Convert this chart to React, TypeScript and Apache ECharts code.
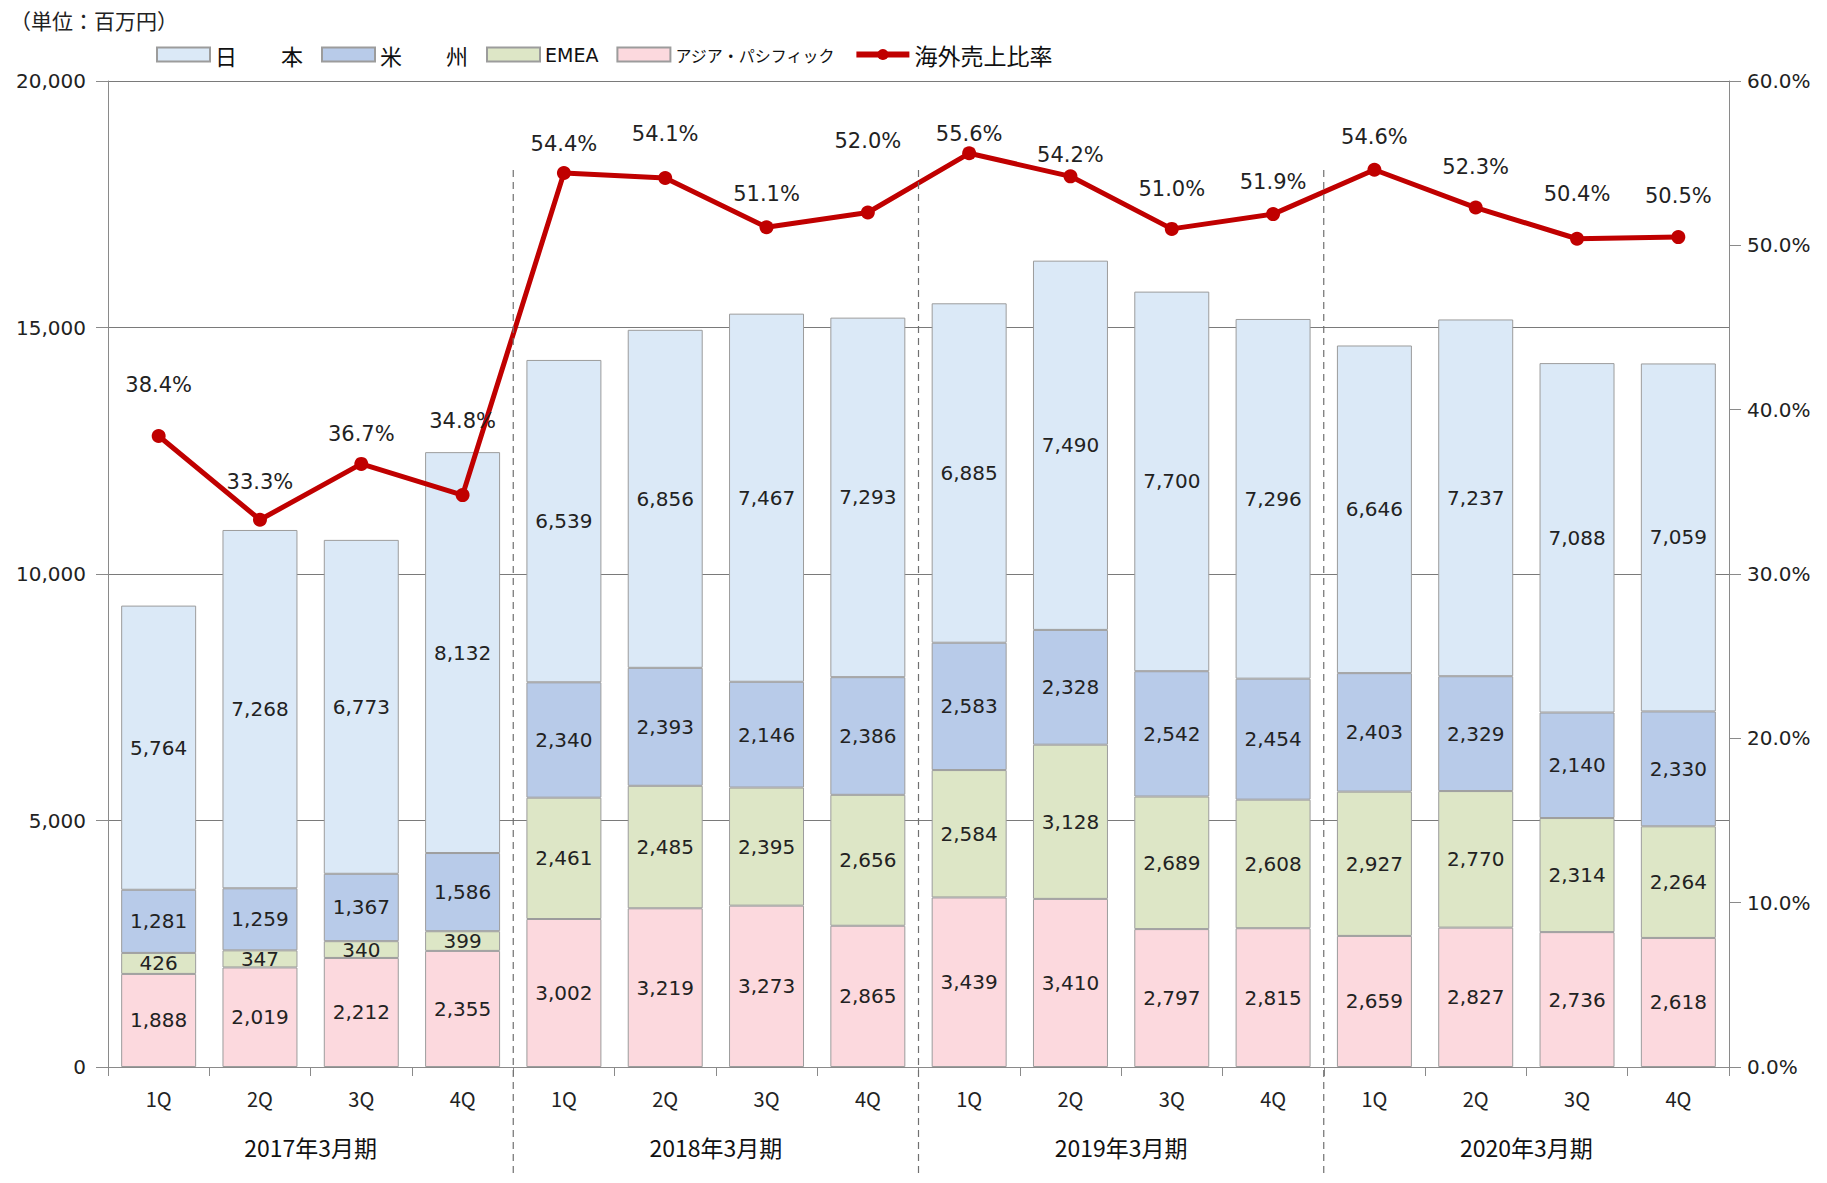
import React, { useEffect, useRef } from "react";
import * as echarts from "echarts";

const quarters = ["1Q", "2Q", "3Q", "4Q", "1Q", "2Q", "3Q", "4Q", "1Q", "2Q", "3Q", "4Q", "1Q", "2Q", "3Q", "4Q"];
const fiscalYears = ["2017年3月期", "2018年3月期", "2019年3月期", "2020年3月期"];
const japan = [5764, 7268, 6773, 8132, 6539, 6856, 7467, 7293, 6885, 7490, 7700, 7296, 6646, 7237, 7088, 7059];
const americas = [1281, 1259, 1367, 1586, 2340, 2393, 2146, 2386, 2583, 2328, 2542, 2454, 2403, 2329, 2140, 2330];
const emea = [426, 347, 340, 399, 2461, 2485, 2395, 2656, 2584, 3128, 2689, 2608, 2927, 2770, 2314, 2264];
const asiaPacific = [1888, 2019, 2212, 2355, 3002, 3219, 3273, 2865, 3439, 3410, 2797, 2815, 2659, 2827, 2736, 2618];
const overseasRatio = [38.4, 33.3, 36.7, 34.8, 54.4, 54.1, 51.1, 52.0, 55.6, 54.2, 51.0, 51.9, 54.6, 52.3, 50.4, 50.5];

// label placement (style only): gap between each ratio point and its label
const ratioLabelGap = [33, 20, 12, 57, 12, 26, 16, 54, 2, 4, 22, 15, 15, 23, 27, 24];

const NUM_FONT = "'DejaVu Sans', Verdana, sans-serif";
const JP_FONT = "'Noto Sans CJK JP', sans-serif";

const fmt = (v: number) => String(v).replace(/\B(?=(\d{3})+(?!\d))/g, ",");

export default function App() {
  const ref = useRef<HTMLDivElement>(null);
  useEffect(() => {
    document.body.style.margin = "0";
    if (!ref.current) return;
    const chart = echarts.init(ref.current, null, { renderer: "svg" });

    const barLabel = {
      show: true,
      position: "inside" as const,
      fontFamily: NUM_FONT,
      fontSize: 20,
      color: "#222",
      formatter: (p: any) => fmt(p.value),
    };
    const barBase = (name: string, data: number[], color: string) => ({
      name,
      type: "bar",
      stack: "sales",
      data,
      barWidth: "74%",
      itemStyle: { color, borderColor: "#9c9c9c", borderWidth: 1 },
      label: barLabel,
      z: 2,
    });

    const unitText = {
      type: "text",
      left: 10,
      top: 9,
      style: { text: "（単位：百万円）", fontFamily: JP_FONT, fontSize: 21, fill: "#222" },
    };

    chart.setOption({
      animation: false,
      textStyle: { fontFamily: JP_FONT },
      grid: { left: 108, right: 98, top: 81, bottom: 116, containLabel: false },
      graphic: [unitText],
      legend: {
        left: 151,
        top: 38,
        itemWidth: 53,
        itemHeight: 14,
        itemGap: 18,
        lineStyle: { width: 6 },
        textStyle: { fontFamily: JP_FONT, fontSize: 22, color: "#111" },
        data: [
          { name: "日　　本", icon: "rect" },
          { name: "米　　州", icon: "rect" },
          { name: "EMEA", icon: "rect", textStyle: { fontFamily: NUM_FONT, fontSize: 19 } },
          { name: "アジア・パシフィック", icon: "rect", textStyle: { fontSize: 16 } },
          { name: "海外売上比率", textStyle: { fontSize: 23 } },
        ],
      },
      xAxis: [
        {
          type: "category",
          data: quarters,
          position: "bottom",
          axisLine: { lineStyle: { color: "#8a8a8a", width: 1 } },
          axisTick: { show: true, length: 9, lineStyle: { color: "#8a8a8a" } },
          axisLabel: { fontFamily: JP_FONT, fontSize: 20, color: "#222", margin: 21 },
        },
        {
          type: "category",
          data: fiscalYears,
          position: "bottom",
          axisLine: { show: false },
          axisTick: { show: false },
          axisLabel: { fontFamily: JP_FONT, fontSize: 23, color: "#111", margin: 68 },
        },
      ],
      yAxis: [
        {
          type: "value",
          min: 0,
          max: 20000,
          interval: 5000,
          axisLine: { show: true, lineStyle: { color: "#8a8a8a" } },
          axisTick: { show: true, length: 12, lineStyle: { color: "#8a8a8a" } },
          splitLine: { show: true, lineStyle: { color: "#7a7a7a", width: 1 } },
          axisLabel: { fontFamily: NUM_FONT, fontSize: 20, color: "#222", margin: 22, formatter: (v: number) => fmt(v) },
        },
        {
          type: "value",
          min: 0,
          max: 60,
          interval: 10,
          position: "right",
          axisLine: { show: true, lineStyle: { color: "#8a8a8a" } },
          axisTick: { show: true, length: 12, lineStyle: { color: "#8a8a8a" } },
          splitLine: { show: false },
          axisLabel: { fontFamily: NUM_FONT, fontSize: 20, color: "#222", margin: 18, formatter: (v: number) => v.toFixed(1) + "%" },
        },
      ],
      series: [
        barBase("アジア・パシフィック", asiaPacific, "#fcd9de"),
        barBase("EMEA", emea, "#dde6c6"),
        barBase("米　　州", americas, "#b8cbe9"),
        barBase("日　　本", japan, "#dbe9f7"),
        {
          name: "海外売上比率",
          type: "line",
          yAxisIndex: 1,
          data: overseasRatio.map((v, i) => ({ value: v, label: { distance: ratioLabelGap[i] } })),
          symbol: "circle",
          symbolSize: 14,
          lineStyle: { color: "#c00000", width: 5 },
          itemStyle: { color: "#c00000" },
          label: {
            show: true,
            position: "top",
            fontFamily: NUM_FONT,
            fontSize: 21,
            color: "#222",
            formatter: (p: any) => Number(p.value).toFixed(1) + "%",
          },
          z: 5,
        },
      ],
    });

    const boundaries = [4, 8, 12].map((i) => {
      const a = chart.convertToPixel({ xAxisIndex: 0 }, i - 1) as number;
      const b = chart.convertToPixel({ xAxisIndex: 0 }, i) as number;
      return (a + b) / 2;
    });
    chart.setOption({
      graphic: [
        unitText,
        ...boundaries.map((x) => ({
          type: "line",
          shape: { x1: x, y1: 170, x2: x, y2: 1178 },
          style: { stroke: "#707070", lineWidth: 1.2, lineDash: [7, 5] },
          z: 10,
        })),
      ],
    });

    return () => chart.dispose();
  }, []);
  return <div ref={ref} style={{ width: 1827, height: 1183 }} />;
}
